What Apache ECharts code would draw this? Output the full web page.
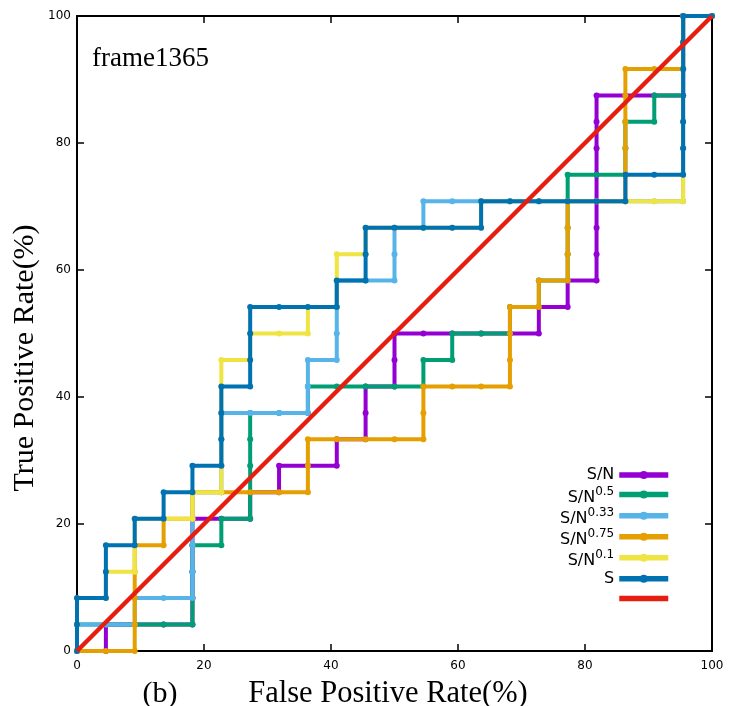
<!DOCTYPE html>
<html>
<head>
<meta charset="utf-8">
<script src="https://cdn.jsdelivr.net/npm/echarts@6/dist/echarts.min.js"></script>
<style>html,body{margin:0;padding:0;background:#fff;}#c{width:735px;height:706px;}</style>
</head>
<body>
<div id="c"></div>
<script>
// ROC points [FPR %, TPR %]
const snPts = [[0,0],[4.55,0],[4.55,4.17],[9.09,4.17],[13.64,4.17],[18.18,4.17],[18.18,8.33],[18.18,12.5],[18.18,16.67],[18.18,20.83],[22.73,20.83],[27.27,20.83],[27.27,25],[31.82,25],[31.82,29.17],[36.36,29.17],[40.91,29.17],[40.91,33.33],[45.45,33.33],[45.45,37.5],[45.45,41.67],[50,41.67],[50,45.83],[50,50],[54.55,50],[59.09,50],[63.64,50],[68.18,50],[72.73,50],[72.73,54.17],[77.27,54.17],[77.27,58.33],[81.82,58.33],[81.82,62.5],[81.82,66.67],[81.82,70.83],[81.82,75],[81.82,79.17],[81.82,83.33],[81.82,87.5],[86.36,87.5],[90.91,87.5],[95.45,87.5],[95.45,91.67],[95.45,95.83],[95.45,100],[100,100]];
const sn05Pts = [[0,0],[0,4.17],[4.55,4.17],[9.09,4.17],[13.64,4.17],[18.18,4.17],[18.18,8.33],[18.18,12.5],[18.18,16.67],[22.73,16.67],[22.73,20.83],[27.27,20.83],[27.27,25],[27.27,29.17],[27.27,33.33],[27.27,37.5],[31.82,37.5],[36.36,37.5],[36.36,41.67],[40.91,41.67],[45.45,41.67],[50,41.67],[54.55,41.67],[54.55,45.83],[59.09,45.83],[59.09,50],[63.64,50],[68.18,50],[68.18,54.17],[72.73,54.17],[72.73,58.33],[77.27,58.33],[77.27,62.5],[77.27,66.67],[77.27,70.83],[77.27,75],[81.82,75],[86.36,75],[86.36,79.17],[86.36,83.33],[90.91,83.33],[90.91,87.5],[95.45,87.5],[95.45,91.67],[95.45,95.83],[95.45,100],[100,100]];
const sn033Pts = [[0,0],[0,4.17],[4.55,4.17],[9.09,4.17],[9.09,8.33],[13.64,8.33],[18.18,8.33],[18.18,12.5],[18.18,16.67],[18.18,20.83],[18.18,25],[22.73,25],[22.73,29.17],[22.73,33.33],[22.73,37.5],[27.27,37.5],[31.82,37.5],[36.36,37.5],[36.36,41.67],[36.36,45.83],[40.91,45.83],[40.91,50],[40.91,54.17],[40.91,58.33],[45.45,58.33],[50,58.33],[50,62.5],[50,66.67],[54.55,66.67],[54.55,70.83],[59.09,70.83],[63.64,70.83],[68.18,70.83],[72.73,70.83],[77.27,70.83],[81.82,70.83],[86.36,70.83],[90.91,70.83],[95.45,70.83],[95.45,75],[95.45,79.17],[95.45,83.33],[95.45,87.5],[95.45,91.67],[95.45,95.83],[95.45,100],[100,100]];
const sn075Pts = [[0,0],[4.55,0],[9.09,0],[9.09,4.17],[9.09,8.33],[9.09,12.5],[9.09,16.67],[13.64,16.67],[13.64,20.83],[18.18,20.83],[18.18,25],[22.73,25],[27.27,25],[31.82,25],[36.36,25],[36.36,29.17],[36.36,33.33],[40.91,33.33],[45.45,33.33],[50,33.33],[54.55,33.33],[54.55,37.5],[54.55,41.67],[59.09,41.67],[63.64,41.67],[68.18,41.67],[68.18,45.83],[68.18,50],[68.18,54.17],[72.73,54.17],[72.73,58.33],[77.27,58.33],[77.27,62.5],[77.27,66.67],[77.27,70.83],[81.82,70.83],[86.36,70.83],[86.36,75],[86.36,79.17],[86.36,83.33],[86.36,87.5],[86.36,91.67],[90.91,91.67],[95.45,91.67],[95.45,95.83],[95.45,100],[100,100]];
const sn01Pts = [[0,0],[0,4.17],[0,8.33],[4.55,8.33],[4.55,12.5],[9.09,12.5],[9.09,16.67],[9.09,20.83],[13.64,20.83],[18.18,20.83],[18.18,25],[22.73,25],[22.73,29.17],[22.73,33.33],[22.73,37.5],[22.73,41.67],[22.73,45.83],[27.27,45.83],[27.27,50],[31.82,50],[36.36,50],[36.36,54.17],[40.91,54.17],[40.91,58.33],[40.91,62.5],[45.45,62.5],[45.45,66.67],[50,66.67],[54.55,66.67],[59.09,66.67],[63.64,66.67],[63.64,70.83],[68.18,70.83],[72.73,70.83],[77.27,70.83],[81.82,70.83],[86.36,70.83],[90.91,70.83],[95.45,70.83],[95.45,75],[95.45,79.17],[95.45,83.33],[95.45,87.5],[95.45,91.67],[95.45,95.83],[95.45,100],[100,100]];
const sPts = [[0,0],[0,4.17],[0,8.33],[4.55,8.33],[4.55,12.5],[4.55,16.67],[9.09,16.67],[9.09,20.83],[13.64,20.83],[13.64,25],[18.18,25],[18.18,29.17],[22.73,29.17],[22.73,33.33],[22.73,37.5],[22.73,41.67],[27.27,41.67],[27.27,45.83],[27.27,50],[27.27,54.17],[31.82,54.17],[36.36,54.17],[40.91,54.17],[40.91,58.33],[45.45,58.33],[45.45,62.5],[45.45,66.67],[50,66.67],[54.55,66.67],[59.09,66.67],[63.64,66.67],[63.64,70.83],[68.18,70.83],[72.73,70.83],[77.27,70.83],[81.82,70.83],[86.36,70.83],[86.36,75],[90.91,75],[95.45,75],[95.45,79.17],[95.45,83.33],[95.45,87.5],[95.45,91.67],[95.45,95.83],[95.45,100],[100,100]];
const diagPts = [[0,0],[100,100]];

const seriesNames = ['S/N', 'S/N^0.5', 'S/N^0.33', 'S/N^0.75', 'S/N^0.1', 'S', '\u00a0'];
const seriesColors = ['#9400D3', '#009E73', '#56B4E9', '#E69F00', '#F0E442', '#0072B2', '#E51E10'];
const seriesData = [snPts, sn05Pts, sn033Pts, sn075Pts, sn01Pts, sPts, diagPts];
const xTicks = [0, 20, 40, 60, 80, 100];
const yTicks = [0, 20, 40, 60, 80, 100];

const chart = echarts.init(document.getElementById('c'), null, {renderer: 'canvas'});

const series = seriesNames.map((name, i) => {
  const isDiag = i === seriesNames.length - 1;
  return {
    name: name,
    type: 'line',
    data: seriesData[i],
    xAxisIndex: 0,
    yAxisIndex: 0,
    symbol: 'circle',
    symbolSize: 6,
    showSymbol: !isDiag,
    color: seriesColors[i],
    lineStyle: {width: isDiag ? 4.5 : 4, color: seriesColors[i]},
    itemStyle: {color: seriesColors[i]},
    emphasis: {disabled: true},
    z: 2 + i * 0.01
  };
});

const legendData = seriesNames.map((name, i) =>
  i === seriesNames.length - 1 ? {name: name, itemStyle: {opacity: 0}} : {name: name});

const axisCommon = {
  type: 'value', min: 0, max: 100, interval: 20,
  axisLine: {show: true, onZero: false, lineStyle: {color: '#000', width: 2}},
  axisTick: {show: true, inside: true, length: 7, lineStyle: {color: '#000', width: 1.5}},
  splitLine: {show: false}
};

const option = {
  animation: false,
  backgroundColor: '#fff',
  grid: {left: 77, right: 23, top: 16, bottom: 55, containLabel: false, outerBoundsMode: 'none'},
  xAxis: [
    Object.assign({}, axisCommon, {
      position: 'bottom',
      axisLabel: {show: true, margin: 9, fontSize: 12, color: '#000', fontFamily: 'DejaVu Sans',
        customValues: xTicks}
    }),
    Object.assign({}, axisCommon, {position: 'top', axisLabel: {show: false}})
  ],
  yAxis: [
    Object.assign({}, axisCommon, {
      position: 'left',
      axisLabel: {show: true, margin: 6, fontSize: 12, color: '#000', fontFamily: 'DejaVu Sans',
        customValues: yTicks}
    }),
    Object.assign({}, axisCommon, {position: 'right', axisLabel: {show: false}})
  ],
  legend: {
    orient: 'vertical',
    right: 64,
    top: 465.5,
    align: 'right',
    padding: 0,
    itemWidth: 49,
    itemHeight: 10,
    itemGap: 0.57,
    selectedMode: false,
    data: legendData,
    lineStyle: {width: 5.5},
    formatter: function (name) {
      if (name.indexOf('^') >= 0) {
        const parts = name.split('^');
        return '{b|' + parts[0] + '}{s|' + parts[1] + '}';
      }
      return '{n|' + name + '}';
    },
    textStyle: {
      fontFamily: 'DejaVu Sans', fontSize: 16, color: '#000', lineHeight: 19,
      rich: {
        n: {fontFamily: 'DejaVu Sans', fontSize: 16, color: '#000', lineHeight: 19, height: 19},
        b: {fontFamily: 'DejaVu Sans', fontSize: 16, color: '#000', lineHeight: 19, height: 13, verticalAlign: 'bottom'},
        s: {fontFamily: 'DejaVu Sans', fontSize: 12, color: '#000', lineHeight: 19, height: 14, verticalAlign: 'top'}
      }
    }
  },
  graphic: [
    {type: 'text', left: 92, top: 45, z: 100,
      style: {text: 'frame1365', font: '27px "Liberation Serif"', fill: '#000'}},
    {type: 'text', x: 160, y: 694, z: 100,
      style: {text: '(b)', font: '30px "Liberation Serif"', fill: '#000', align: 'center', verticalAlign: 'middle'}},
    {type: 'text', x: 388, y: 694, z: 100,
      style: {text: 'False Positive Rate(%)', font: '30.5px "Liberation Serif"', fill: '#000', align: 'center', verticalAlign: 'middle'}},
    {type: 'text', x: 25, y: 358, rotation: Math.PI / 2, z: 100,
      style: {text: 'True Positive Rate(%)', font: '30px "Liberation Serif"', fill: '#000', align: 'center', verticalAlign: 'middle'}}
  ],
  series: series
};

chart.setOption(option);
</script>
</body>
</html>
